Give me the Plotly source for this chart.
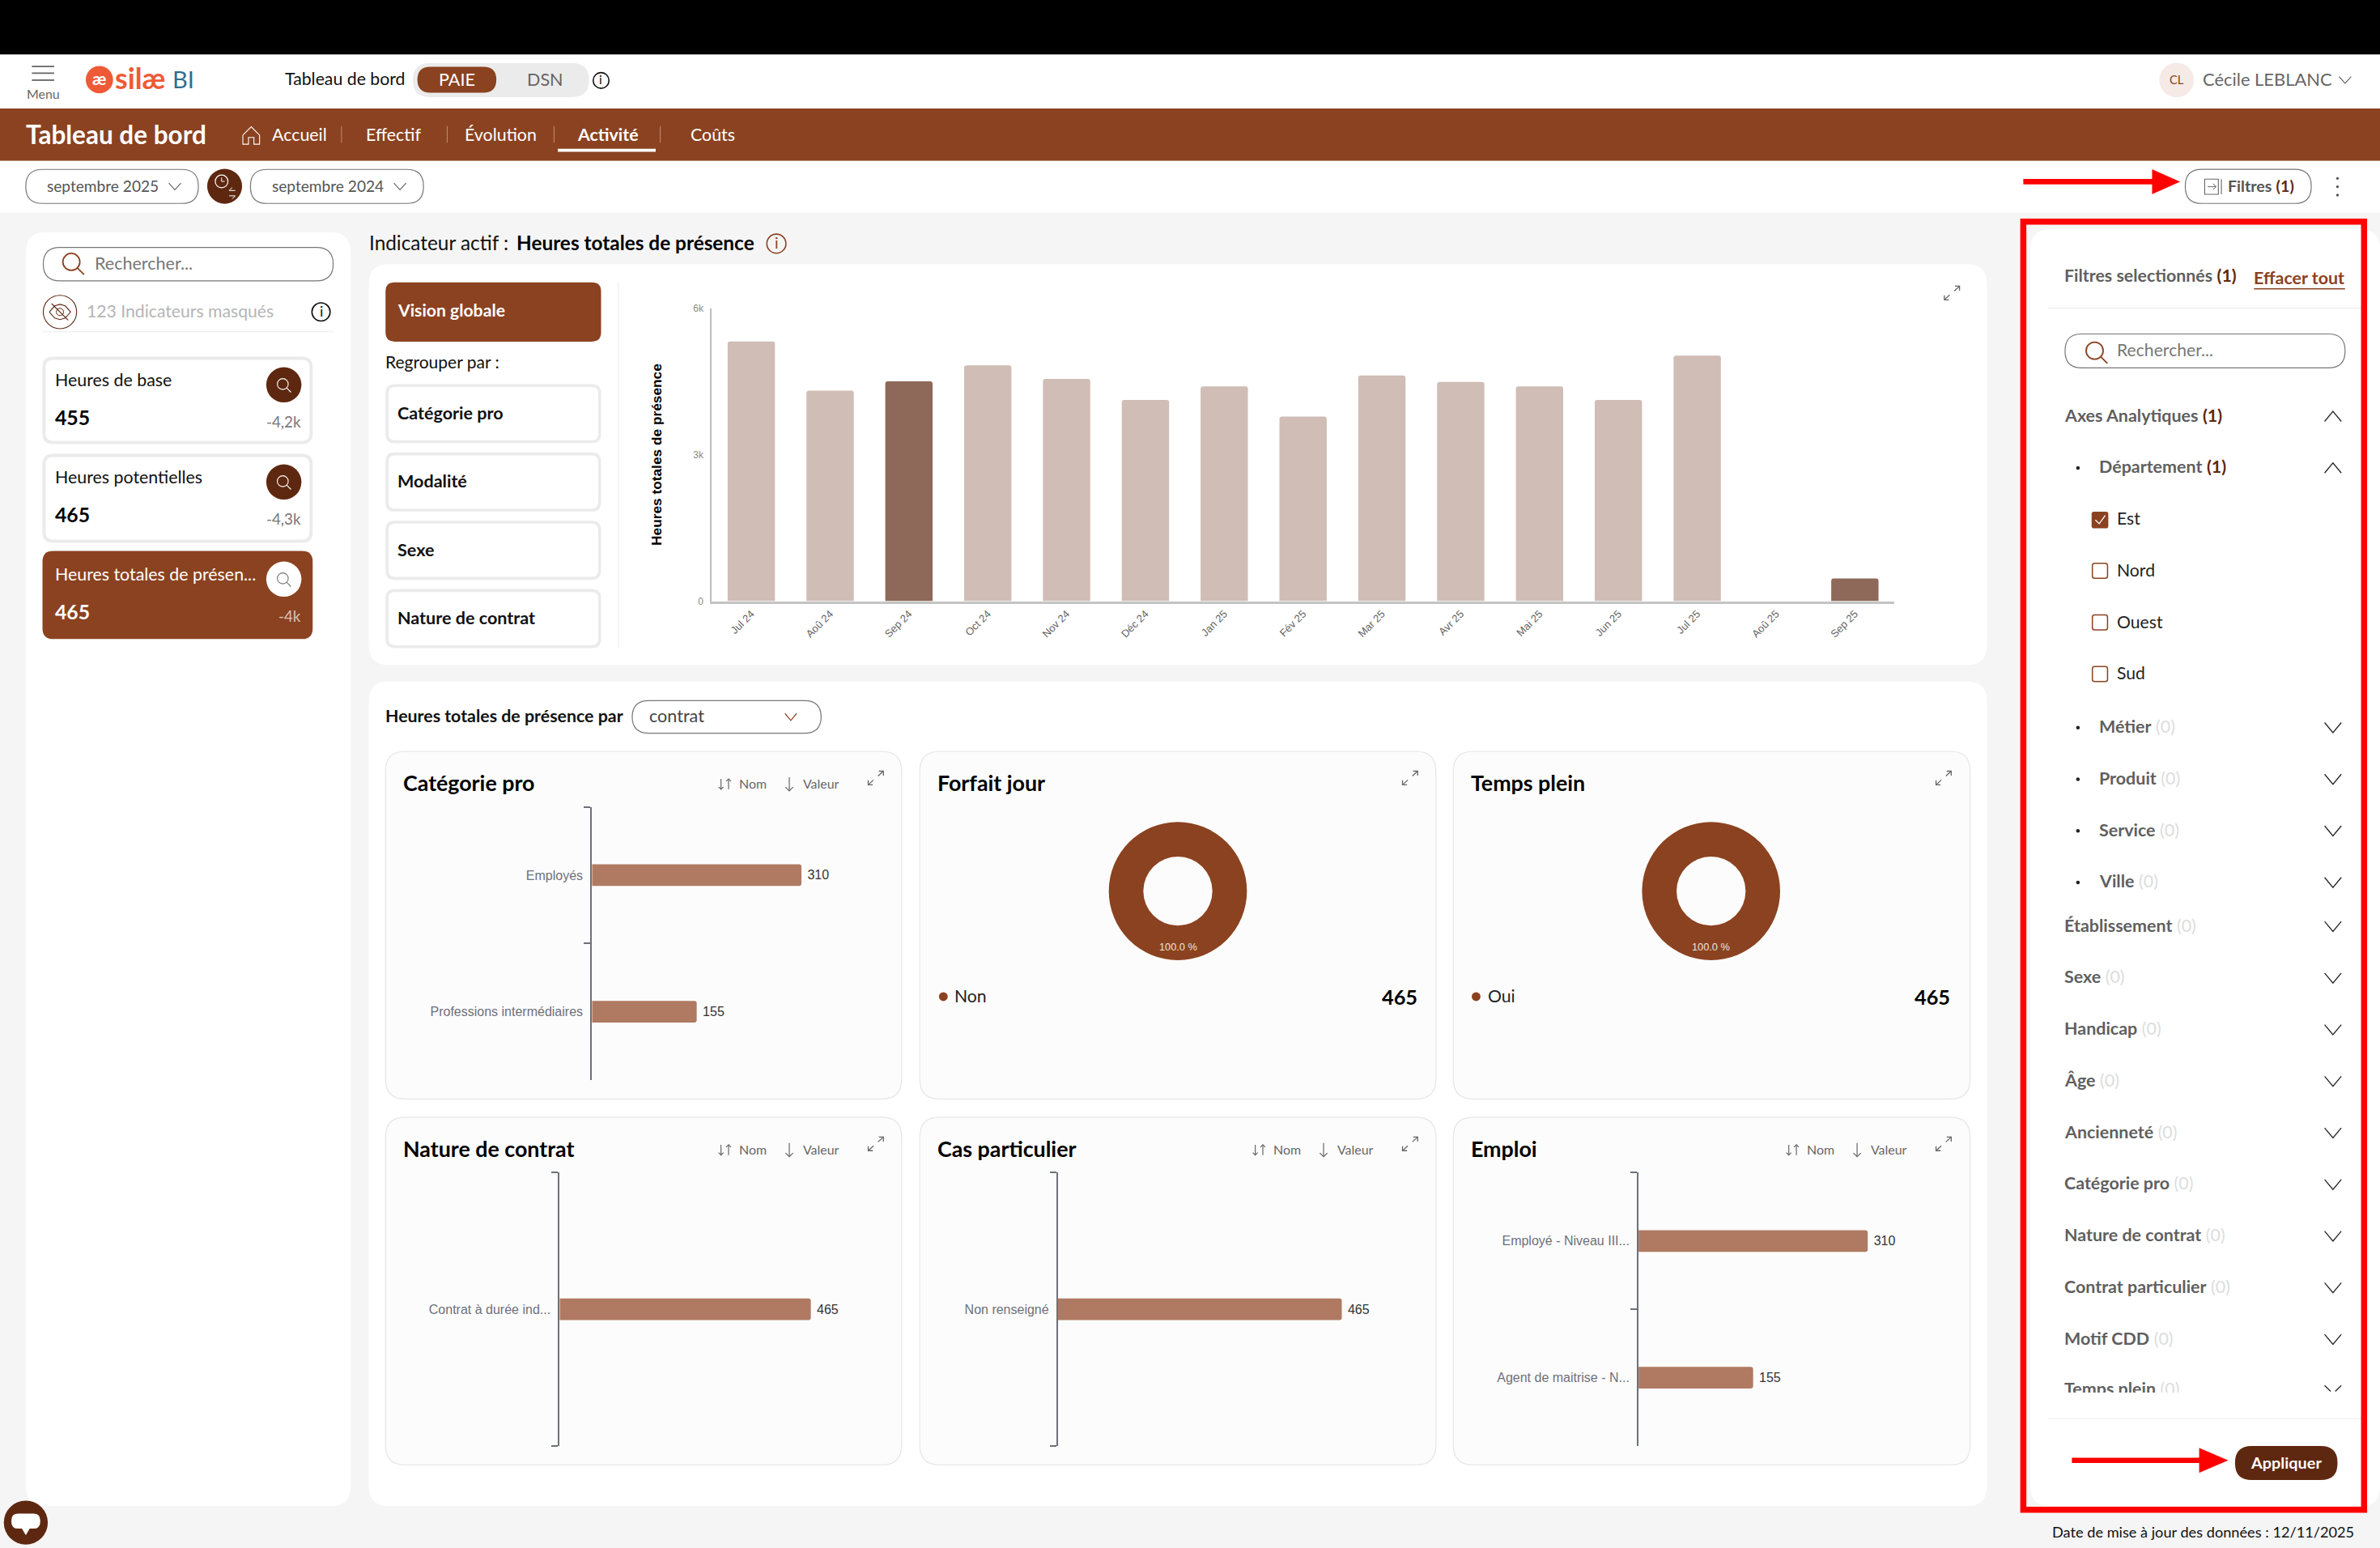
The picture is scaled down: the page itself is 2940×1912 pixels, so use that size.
import plotly.graph_objects as go

# ---------- data ----------
months = ["Jul 24","Aoû 24","Sep 24","Oct 24","Nov 24","Déc 24","Jan 25","Fév 25","Mar 25","Avr 25","Mai 25","Jun 25","Jul 25","Aoû 25","Sep 25"]
heures = [5320,4310,4500,4830,4550,4120,4400,3780,4620,4490,4400,4120,5030,0,465]
highlighted = ["Sep 24","Sep 25"]

cat_pro = ["Employés","Professions intermédiaires"]
cat_pro_values = [310,155]
nature = ["Contrat à durée ind..."]
nature_values = [465]
cas = ["Non renseigné"]
cas_values = [465]
emploi = ["Employé - Niveau III...","Agent de maitrise - N..."]
emploi_values = [310,155]
forfait_labels = ["Non"]
forfait_values = [465]
plein_labels = ["Oui"]
plein_values = [465]

kpi_names = ["Heures de base","Heures potentielles","Heures totales de présen..."]
kpi_values = ["455","465","465"]
kpi_deltas = ["-4,2k","-4,3k","-4k"]
group_buttons = ["Catégorie pro","Modalité","Sexe","Nature de contrat"]
nav_items = ["Accueil","Effectif","Évolution","Activité","Coûts"]

# ---------- colours / fonts ----------
BROWN="#8B4220"; DARK="#5E2810"; BAR="#B07A62"; LIGHT="#CFBDB6"; MID="#8E6859"
GREY="#5F5F5F"; BORDER="#EBEBEB"; RED="#FF0000"; AX="#6E7079"
UI="Lato"; CH="Liberation Sans"

S=2940/1568
def X(x): return x/1568
def Y(y): return 1-y*S/1912

shapes=[]; ann=[]

def rr(x0,y0,x1,y1,r=0,fill=None,line=None,w=1,layer="below"):
    def p(x,y): return f"{X(x):.6f},{Y(y):.6f}"
    if r<=0:
        path=f"M{p(x0,y0)} L{p(x1,y0)} L{p(x1,y1)} L{p(x0,y1)} Z"
    else:
        path=(f"M{p(x0+r,y0)} L{p(x1-r,y0)} Q{p(x1,y0)} {p(x1,y0+r)} L{p(x1,y1-r)} Q{p(x1,y1)} {p(x1-r,y1)} "
              f"L{p(x0+r,y1)} Q{p(x0,y1)} {p(x0,y1-r)} L{p(x0,y0+r)} Q{p(x0,y0)} {p(x0+r,y0)} Z")
    shapes.append(dict(type="path",path=path,xref="paper",yref="paper",layer=layer,
        fillcolor=fill or "rgba(0,0,0,0)",line=dict(color=line or "rgba(0,0,0,0)",width=w if line else 0)))

def poly(pts,color,w=1.5,fill=None,close=False,layer="below"):
    path="M"+" L".join(f"{X(a):.6f},{Y(b):.6f}" for a,b in pts)+(" Z" if close else "")
    shapes.append(dict(type="path",path=path,xref="paper",yref="paper",layer=layer,
        fillcolor=fill or "rgba(0,0,0,0)",line=dict(color=color,width=w)))

def circ(cx,cy,r,fill=None,line=None,w=1.5,layer="below"):
    shapes.append(dict(type="circle",xref="paper",yref="paper",x0=X(cx-r),x1=X(cx+r),y0=Y(cy+r),y1=Y(cy-r),layer=layer,
        fillcolor=fill or "rgba(0,0,0,0)",line=dict(color=line or "rgba(0,0,0,0)",width=w if line else 0)))

def T(x,y,text,size,color="#000",anchor="left",font=UI):
    ann.append(dict(x=X(x),y=Y(y-0.6),xref="paper",yref="paper",text=text,showarrow=False,xanchor=anchor,yanchor="middle",
        font=dict(family=font,size=size*S,color=color),borderpad=0,borderwidth=0))

def chevron(x,y,up=False,c="#222",w=1.6,hw=6,hh=3.3):
    s=-1 if up else 1
    poly([(x-hw,y-s*hh),(x,y+s*hh),(x+hw,y-s*hh)],c,w)

def mag(x,y,c=BROWN,r=5.6,w=1.8):
    circ(x,y,r,line=c,w=w)
    poly([(x+r*0.7,y+r*0.7),(x+r*1.5,y+r*1.5)],c,w)

def info(x,y,c="#111",r=5.2):
    circ(x,y,r,line=c,w=1.6)
    T(x,y,"i",r*1.6,c,"center")

def expand(x,y,c="#666"):
    poly([(x-5,y+4.5),(x-1.5,y+1.3)],c,1.3)
    poly([(x-5,y+1.5),(x-5,y+4.5),(x-2,y+4.5)],c,1.3)
    poly([(x+5,y-4.5),(x+1.5,y-1.3)],c,1.3)
    poly([(x+2,y-4.5),(x+5,y-4.5),(x+5,y-1.5)],c,1.3)

def arrow(x,y,down=True,ln=4.5,c="#666",w=1.2,h=2.5):
    s=1 if down else -1
    poly([(x,y-s*ln),(x,y+s*ln)],c,w)
    poly([(x-h,y+s*(ln-h)),(x,y+s*ln),(x+h,y+s*(ln-h))],c,w)

# ---------- page bands ----------
rr(0,0,1568,36,fill="#000000")
rr(0,36,1568,71.5,fill="#FFFFFF")
rr(0,71.5,1568,106,fill=BROWN)
rr(0,106,1568,140,fill="#FFFFFF")

# header
for yy in (43.8,48.2,52.8):
    poly([(21,yy),(35.7,yy)],"#666",1.8)
T(28.3,62,"Menu",8.5,"#666","center")
circ(65.5,52.5,9,fill="#EE5A36")
T(65.5,52.3,"<b>æ</b>",11.5,"#FFF","center")
T(75.5,52,"<b>silæ</b>",19,"#EE5A36")
T(113.5,52.5,"BI",15.5,"#2F6F8F")
T(187.5,52.5,"Tableau de bord",11.35,"#111")
rr(272,41.6,388,64,r=11,fill="#EBEBEB")
rr(275,44,327,61,r=8.5,fill=BROWN)
T(301,52.8,"PAIE",11.5,"#FFF","center")
T(359,52.8,"DSN",11.5,"#666","center")
info(396,53)
circ(1434,52.7,11.4,fill="#F5EAE6")
T(1434,53,"CL",7.8,BROWN,"center")
T(1451,52.5,"Cécile LEBLANC",11.7,"#666")
chevron(1545,52.7,c="#666",w=1.2,hw=4,hh=2.2)

# nav
T(17,89,"<b>Tableau de bord</b>",16.8,"#FFF")
poly([(160,89),(165.5,83.5),(171,89),(171,95),(167.3,95),(167.3,90.5),(163.7,90.5),(163.7,95),(160,95),(160,89)],"#FFF",1.1)
nav_x=[179,241,306,380,455]
for n,xx in zip(nav_items,nav_x):
    T(xx,89,f"<b>{n}</b>" if n=="Activité" else n,11.4,"#FFF")
for xx in (225,294.6,365,435):
    poly([(xx,83),(xx,94)],"#C9A594",0.8)
rr(367.5,98,432,100,fill="#FFF")

# date row
for x0,x1,t in ((17,130.7,"septembre 2025"),(165,279,"septembre 2024")):
    rr(x0,111.6,x1,134,r=11,fill="#FFF",line="#777",w=1.2)
    T(x0+14,122.8,t,10.2,"#555")
    chevron(x1-15.5,122.8,c="#666",w=1.2,hw=4,hh=2.2)
circ(148,122.7,11.5,fill=DARK)
circ(146,119.5,4.2,line="#FFF",w=1.2)
poly([(146,117),(146,119.5),(148,119.5)],"#FFF",1)
poly([(155,125.5),(151,125.5),(153,123.5)],"#FFF",1)
poly([(151,129),(155,129),(153,131)],"#FFF",1)
rr(1439.7,111.5,1522.7,134,r=11,fill="#FFF",line="#777",w=1.2)
rr(1452.5,118,1461.5,128,line="#666",w=1.1)
poly([(1454.5,123),(1460,123)],"#666",1)
poly([(1458,121),(1460,123),(1458,125)],"#666",1)
poly([(1463.5,118),(1463.5,128)],"#666",1.1)
T(1467.5,123,"<b>Filtres</b> <span style='color:#5E2810'><b>(1)</b></span>",10.5,"#555")
for yy in (117.5,123,128.5):
    circ(1540,yy,0.9,fill="#555")

# ---------- main cards ----------
rr(17,153,231,992,r=13,fill="#FFF")
rr(243,174,1309,438,r=13,fill="#FFF")
rr(243,449,1309,992,r=13,fill="#FFF")
rr(1337.6,151,1568,992,r=13,fill="#FFF")

# left panel
rr(28.5,163,219.5,185,r=11,fill="#FFF",line="#777",w=1.2)
mag(47,172.5)
T(62.5,174,"Rechercher...",11.5,"#777")
circ(39.5,205.5,11,fill="#FFF",line=DARK,w=1.1)
poly([(32.5,205.5),(36,201.5),(39.5,200.5),(43,201.5),(46.5,205.5),(43,209.5),(39.5,210.5),(36,209.5),(32.5,205.5)],DARK,1.1)
circ(39.5,205.5,2.4,line=DARK,w=1)
poly([(34,200),(45,211)],DARK,1.1)
T(57,205.5,"123 Indicateurs masqués",11.3,"#B5B5B5")
info(211.5,205.5,r=6)
poly([(28,218.5),(219.5,218.5)],"#EEEEEE",1.2)

kpi_y=[(235,292.5),(299,357.5),(363,421)]
for i,((y0,y1),n,v,dl) in enumerate(zip(kpi_y,kpi_names,kpi_values,kpi_deltas)):
    act=i==2
    if act:
        rr(28,y0,206,y1,r=7,fill=BROWN)
    else:
        rr(29,y0+1,205,y1-1,r=6,fill="#FFF",line=BORDER,w=4)
    T(36.5,y0+15.5,n,11.4,"#FFF" if act else "#111")
    T(36.5,y0+40.3,f"<b>{v}</b>",13.2,"#FFF" if act else "#000")
    T(198.5,y0+43,dl,10,"#D7C2B8" if act else "#777","right")
    circ(187,y0+18.5,11.6,fill="#FFF" if act else DARK)
    mag(186.3,y0+18,c=("#777" if act else "#FFF"),r=3.6,w=1.1)

# center header
T(243,160.5,"Indicateur actif :",13,"#111")
T(340,160.5,"<b>Heures totales de présence</b>",13,"#000")
info(511.5,160.5,c=BROWN,r=6.3)

rr(254,186,396,225,r=6,fill=BROWN)
T(262,205,"<b>Vision globale</b>",11.3,"#FFF")
T(254,239,"Regrouper par :",11.2,"#111")
for (y0,n) in zip((253,298,343,388),group_buttons):
    rr(255,y0+1,395,y0+38,r=5,fill="#FFF",line=BORDER,w=3.6)
    T(262,y0+19.5,f"<b>{n}</b>",11.5,"#111")
poly([(407.5,186),(407.5,427)],"#EFEFEF",1.2)
expand(1286,193)

# second block header
T(254,472,"<b>Heures totales de présence par</b>",11.4,"#111")
rr(416.5,461.5,541,483,r=11,fill="#FFF",line="#777",w=1.2)
T(427.5,472.3,"contrat",11.5,"#444")
chevron(521,472.3,c=BROWN,w=1.2,hw=3.8,hh=2.3)

# small cards
card_x=[(254,594),(606,946),(957.5,1298)]
card_y=[(495,724),(736,965)]
titles=[["Catégorie pro","Forfait jour","Temps plein"],["Nature de contrat","Cas particulier","Emploi"]]
for r,(y0,y1) in enumerate(card_y):
    for c,(x0,x1) in enumerate(card_x):
        rr(x0,y0,x1,y1,r=13,fill="#FCFCFC",line="#E9E9E9",w=1.4)
        T(x0+11.7,y0+21.5,f"<b>{titles[r][c]}</b>",14.3,"#000")
        expand(x0+323,y0+17.5)
        if not (r==0 and c>0):
            arrow(x0+221,y0+21.5,True,3.4,h=1.6)
            arrow(x0+226,y0+21.5,False,3.4,h=1.6)
            T(x0+233,y0+21.5,"Nom",8.5,"#666")
            arrow(x0+266,y0+21.5,True,4.5)
            T(x0+275,y0+21.5,"Valeur",8.5,"#666")

# donut legends
for cx,lab,val,xr in ((621.5,forfait_labels[0],forfait_values[0],934),(972.5,plein_labels[0],plein_values[0],1285)):
    circ(cx,656.5,2.9,fill=BROWN)
    T(cx+7.5,656.5,lab,11.3,"#222")
    T(xr,657,f"<b>{val}</b>",13.5,"#000","right")

# ---------- filter panel ----------
T(1360,182,"<b>Filtres selectionnés</b> <span style='color:#5E2810'><b>(1)</b></span>",11.4,GREY)
T(1485,183.5,"<b>Effacer tout</b>",11.45,BROWN)
poly([(1485,190.3),(1545,190.3)],BROWN,1.5)
poly([(1349,203),(1557,203)],"#EFEFEF",1.1)
rr(1360.5,220,1545,242.3,r=11,fill="#FFF",line="#777",w=1.2)
mag(1380,231)
T(1394.5,231,"Rechercher...",11.3,"#777")

def row_text(n,count):
    col="#5E2810" if count else "#DDDDDD"
    lab=f"<b>({count})</b>" if count else "(0)"
    return f"<b>{n}</b> <span style='color:{col}'>{lab}</span>"

rows=[(274,1360,"Axes Analytiques",1,True,False),(308,1383,"Département",1,True,True),
      (479,1383,"Métier",0,False,True),(513,1383,"Produit",0,False,True),(547,1383,"Service",0,False,True),(581,1383,"Ville",0,False,True),
      (610,1360,"Établissement",0,False,False),(644,1360,"Sexe",0,False,False),(678,1360,"Handicap",0,False,False),(712,1360,"Âge",0,False,False),
      (746,1360,"Ancienneté",0,False,False),(780,1360,"Catégorie pro",0,False,False),(814,1360,"Nature de contrat",0,False,False),
      (848,1360,"Contrat particulier",0,False,False),(882,1360,"Motif CDD",0,False,False)]
for y,x,n,cnt,up,bul in rows:
    T(x,y,row_text(n,cnt),11.45,GREY)
    chevron(1537,y+0.3,up=up,c="#222",w=1.3,hw=5.5,hh=3.3)
    if bul: circ(1369,y+0.3,1.2,fill="#222")
for y,n,chk in ((342,"Est",True),(376,"Nord",False),(410,"Ouest",False),(444,"Sud",False)):
    if chk:
        rr(1378,337,1389,348,r=1.5,fill=BROWN)
        poly([(1380.5,342.5),(1383,345),(1387,339.5)],"#FFF",1.3)
    else:
        rr(1378.5,371+(y-376),1388.5,381+(y-376),r=1.5,fill="#FFF",line=BROWN,w=1.5)
    T(1394.5,y,n,11.3,"#222")
# clipped last chevron
poly([(1531.5,912.7),(1535.5,916.5)],"#222",1.3); poly([(1538.5,916.5),(1542.5,912.7)],"#222",1.3)
poly([(1349,934.5),(1557,934.5)],"#EFEFEF",1.2)
rr(1472.5,952.5,1540,975,r=11,fill=DARK)
T(1506,964,"<b>Appliquer</b>",10.6,"#FFF","center")
T(1551,1009.5,"Date de mise à jour des données : 12/11/2025",9.7,"#111","right")

# chat bubble
circ(17,1003,14.5,fill=DARK)
rr(7.5,997,26.5,1007,r=4.5,fill="#FFF")
poly([(14,1006),(17,1011),(20,1006)],"#FFF",0.5,fill="#FFF",close=True)

# red annotations
rr(1333,146,1557.5,994.5,line=RED,w=7.5,layer="above")
for x0,x1,xt,y in ((1333,1418,1436,119.7),(1365,1449,1467.7,962)):
    rr(x0,y-1.8,x1+2,y+1.8,fill=RED,layer="above")
    poly([(x1,y-8),(xt,y),(x1,y+8)],RED,0.5,fill=RED,close=True,layer="above")

# donut percentage labels
for cx in (776,1127.3):
    T(cx,624.4,"100.0 %",6.8,"#F0E4DE","center",CH)

# ---------- charts ----------
fig=go.Figure()

fig.add_trace(go.Bar(x=months,y=heures,xaxis="x",yaxis="y",
    marker=dict(color=[MID if m in highlighted else LIGHT for m in months],cornerradius=3,line=dict(width=0)),
    hoverinfo="skip"))

layout_axes={}
layout_axes["xaxis"]=dict(domain=[X(469),X(1248)],anchor="y",type="category",categoryorder="array",categoryarray=months,
    range=[-0.5,14.5],tickangle=-45,tickfont=dict(family=CH,size=13,color="#666"),showline=True,linecolor="#C4C4C4",linewidth=3,
    ticks="",showgrid=False,zeroline=False,fixedrange=True,automargin=False)
layout_axes["yaxis"]=dict(domain=[Y(396),Y(203)],anchor="x",range=[0,6000],tickvals=[0,3000,6000],ticktext=["0","3k","6k"],
    tickfont=dict(family=CH,size=12,color="#888"),showline=True,linecolor="#BDBDBD",linewidth=2,ticks="",showgrid=False,zeroline=False,
    ticklabelstandoff=6,title=dict(text="<b>Heures totales de présence</b>",font=dict(family=CH,size=17.3,color="#000"),standoff=34),
    fixedrange=True,automargin=False)

def hbar(idx,cats,vals,ax_x,px_per_unit,y0,y1):
    xn=f"x{idx}"; yn=f"y{idx}"
    fig.add_trace(go.Bar(y=cats,x=vals,orientation="h",xaxis=xn,yaxis=yn,width=14.3*len(cats)/(y1-y0),
        marker=dict(color=BAR,cornerradius=3,line=dict(width=0)),text=["\u00a0"+str(v) for v in vals],textposition="outside",
        textfont=dict(family=CH,size=16,color="#333"),cliponaxis=False,hoverinfo="skip"))
    span=200
    layout_axes[f"xaxis{idx}"]=dict(domain=[X(ax_x),X(ax_x+span)],anchor=yn,range=[0,span/px_per_unit],visible=False,fixedrange=True,automargin=False)
    layout_axes[f"yaxis{idx}"]=dict(domain=[Y(y1),Y(y0)],anchor=xn,type="category",categoryorder="array",categoryarray=cats,
        autorange="reversed",tickson="boundaries",ticks="outside",ticklen=8,tickwidth=2,tickcolor=AX,showline=True,linecolor=AX,linewidth=2,
        ticklabelstandoff=6,tickfont=dict(family=CH,size=16,color=AX),showgrid=False,zeroline=False,fixedrange=True,automargin=False)

hbar(2,cat_pro,cat_pro_values,390,138/310,531.5,711.5)
hbar(3,nature,nature_values,368.7,165.5/465,772.5,952.5)
hbar(4,cas,cas_values,697,187/465,772.5,952.5)
hbar(5,emploi,emploi_values,1079.5,151/310,772.5,952.5)

for cx,labs,vals in ((776,forfait_labels,forfait_values),(1127.3,plein_labels,plein_values)):
    fig.add_trace(go.Pie(labels=labs,values=vals,hole=0.5,sort=False,direction="clockwise",
        domain=dict(x=[X(cx-45.5),X(cx+45.5)],y=[Y(587+45.5),Y(587-45.5)]),
        marker=dict(colors=[BROWN],line=dict(width=0)),textinfo="none",hoverinfo="skip"))

# last filter row, cut by the scrolling list's lower edge
fig.add_trace(go.Scatter(x=[1360],y=[916],mode="text",xaxis="x6",yaxis="y6",text=[row_text("Temps plein",0)],
    textposition="middle right",textfont=dict(family=UI,size=11.45*S,color=GREY),hoverinfo="skip"))
layout_axes["xaxis6"]=dict(domain=[X(1360),X(1530)],anchor="y6",range=[1360,1530],visible=False,fixedrange=True,automargin=False)
layout_axes["yaxis6"]=dict(domain=[Y(917.3),Y(905)],anchor="x6",range=[917.3,905],visible=False,fixedrange=True,automargin=False)

fig.update_layout(width=2940,height=1912,margin=dict(l=0,r=0,t=0,b=0,autoexpand=False),paper_bgcolor="#F5F5F5",plot_bgcolor="rgba(0,0,0,0)",
    showlegend=False,shapes=shapes,annotations=ann,bargap=0.4,font=dict(family=UI),**layout_axes)

fig.write_html("out.html",config={"displayModeBar":False},post_script="document.body.style.margin='0';document.body.style.overflow='hidden';")
